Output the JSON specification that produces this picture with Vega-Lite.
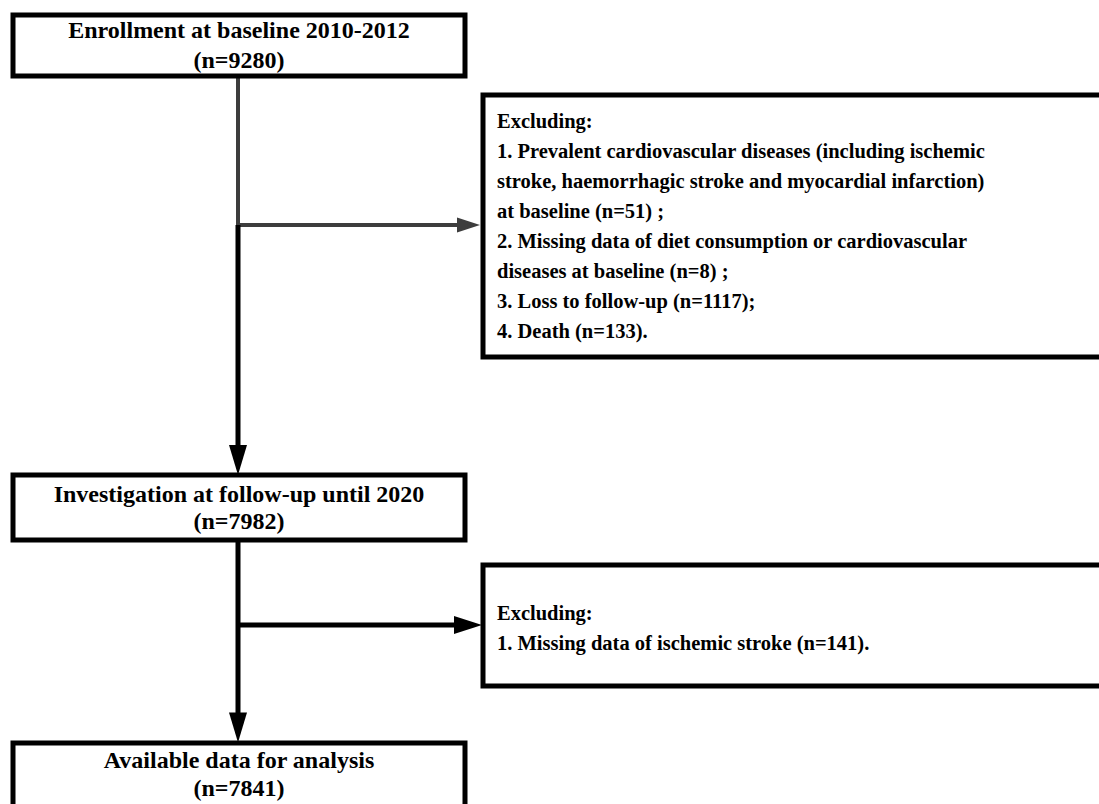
{
  "$schema": "https://vega.github.io/schema/vega-lite/v6.json",
  "width": 1099,
  "height": 804,
  "autosize": "none",
  "padding": 0,
  "background": "white",
  "config": {"view": {"stroke": null}},
  "datasets": {
    "boxes": [
      {"box": "Enrollment", "x": 13, "x2": 465, "y": 15, "y2": 76},
      {"box": "Exclusion 1", "x": 483, "x2": 1115, "y": 95, "y2": 357},
      {"box": "Investigation", "x": 13, "x2": 465, "y": 475, "y2": 540},
      {"box": "Exclusion 2", "x": 483, "x2": 1115, "y": 565, "y2": 686},
      {"box": "Available", "x": 13, "x2": 465, "y": 743, "y2": 830}
    ],
    "greylinks": [
      {"x": 238, "x2": 238, "y": 76, "y2": 225},
      {"x": 238, "x2": 462, "y": 225, "y2": 225}
    ],
    "blacklinks": [
      {"x": 238, "x2": 238, "y": 225, "y2": 450},
      {"x": 238, "x2": 238, "y": 540, "y2": 718},
      {"x": 238, "x2": 458, "y": 625, "y2": 625}
    ],
    "arrowgrey": [{"x": 468.5, "y": 225}],
    "arrowright": [{"x": 468, "y": 625}],
    "arrowdown": [{"x": 238, "y": 460}, {"x": 238, "y": 727.5}],
    "titles": [
      {"text": "Enrollment at baseline 2010-2012", "x": 239, "y": 38},
      {"text": "(n=9280)", "x": 239, "y": 68},
      {"text": "Investigation at follow-up until 2020", "x": 239, "y": 502},
      {"text": "(n=7982)", "x": 239, "y": 529},
      {"text": "Available data for analysis", "x": 239, "y": 768},
      {"text": "(n=7841)", "x": 239, "y": 796}
    ],
    "body": [
      {"text": "Excluding:", "x": 497, "y": 128},
      {"text": "1. Prevalent cardiovascular diseases (including ischemic", "x": 497, "y": 158},
      {"text": "stroke, haemorrhagic stroke and myocardial infarction)", "x": 497, "y": 188},
      {"text": "at baseline (n=51) ;", "x": 497, "y": 218},
      {"text": "2. Missing data of diet consumption or cardiovascular", "x": 497, "y": 248},
      {"text": "diseases at baseline (n=8) ;", "x": 497, "y": 278},
      {"text": "3. Loss to follow-up (n=1117);", "x": 497, "y": 308},
      {"text": "4. Death (n=133).", "x": 497, "y": 338},
      {"text": "Excluding:", "x": 497, "y": 620},
      {"text": "1. Missing data of ischemic stroke (n=141).", "x": 497, "y": 650}
    ]
  },
  "encoding": {
    "x": {"field": "x", "type": "quantitative", "scale": {"domain": [0, 1099], "nice": false, "zero": false}, "axis": null},
    "y": {"field": "y", "type": "quantitative", "scale": {"domain": [0, 804], "nice": false, "zero": false, "reverse": true}, "axis": null}
  },
  "layer": [
    {
      "data": {"name": "greylinks"},
      "mark": {"type": "rule", "color": "#3d3d3d", "strokeWidth": 4},
      "encoding": {"x2": {"field": "x2"}, "y2": {"field": "y2"}}
    },
    {
      "data": {"name": "blacklinks"},
      "mark": {"type": "rule", "color": "#000000", "strokeWidth": 5},
      "encoding": {"x2": {"field": "x2"}, "y2": {"field": "y2"}}
    },
    {
      "data": {"name": "boxes"},
      "mark": {"type": "rect", "fill": "white", "stroke": "#000000", "strokeWidth": 5, "clip": true},
      "encoding": {"x2": {"field": "x2"}, "y2": {"field": "y2"}}
    },
    {
      "data": {"name": "arrowgrey"},
      "mark": {"type": "point", "shape": "M 1 0 L -1 -0.65 L -1 0.65 Z", "filled": true, "color": "#3d3d3d", "opacity": 1, "size": 529}
    },
    {
      "data": {"name": "arrowright"},
      "mark": {"type": "point", "shape": "M 1 0 L -1 -0.64 L -1 0.64 Z", "filled": true, "color": "#000000", "opacity": 1, "size": 784}
    },
    {
      "data": {"name": "arrowdown"},
      "mark": {"type": "point", "shape": "M 0 1 L -0.6 -1 L 0.6 -1 Z", "filled": true, "color": "#000000", "opacity": 1, "size": 900}
    },
    {
      "data": {"name": "titles"},
      "mark": {"type": "text", "align": "center", "baseline": "alphabetic", "font": "Liberation Serif", "fontWeight": "bold", "fontSize": 24, "color": "#000000"},
      "encoding": {"text": {"field": "text"}}
    },
    {
      "data": {"name": "body"},
      "mark": {"type": "text", "align": "left", "baseline": "alphabetic", "font": "Liberation Serif", "fontWeight": "bold", "fontSize": 20.5, "color": "#000000"},
      "encoding": {"text": {"field": "text"}}
    }
  ]
}
